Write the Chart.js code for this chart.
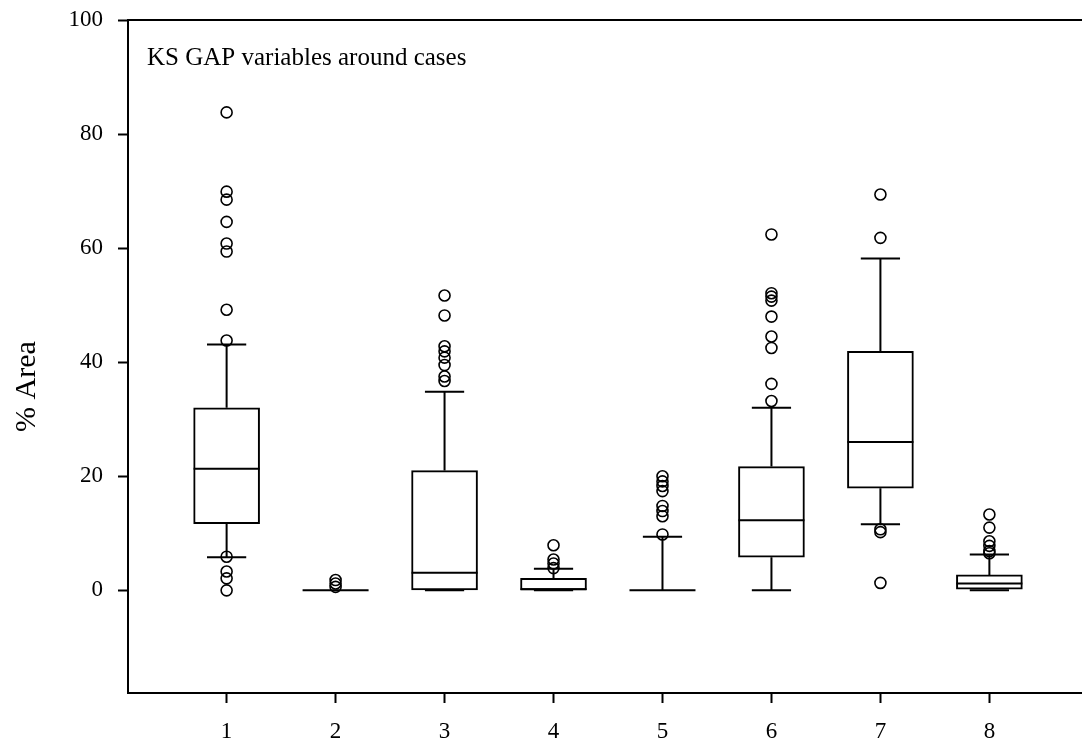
<!DOCTYPE html>
<html>
<head>
<meta charset="utf-8">
<script src="https://cdn.jsdelivr.net/npm/chart.js@4/dist/chart.umd.min.js"></script>
<style>
  html, body { margin: 0; padding: 0; background: #fff; overflow: hidden; }
  #wrap { width: 1100px; height: 748px; }
</style>
</head>
<body>
<div id="wrap"><canvas id="box-chart" width="1100" height="748"></canvas></div>
<script>
// KS GAP 변수 — 사례 주변 % Area 박스플롯 (8개 변수)
const categories = ['1', '2', '3', '4', '5', '6', '7', '8'];
const yTicks     = [0, 20, 40, 60, 80, 100];

// 박스 (사분위) + 수염
const q1      = [11.7, 0, 0,    0,   0,   5.8,  17.9, 0.2];
const median  = [21.3, 0, 3.1,  0.2, 0,   12.3, 26.0, 1.2];
const q3      = [32.0, 0, 21.0, 2.1, 0,   21.7, 41.9, 2.7];
const whiskLo = [5.8,  0, 0,    0,   0,   0,    11.6, 0];
const whiskHi = [43.1, 0, 34.8, 3.8, 9.4, 32.0, 58.2, 6.3];

// 이상치
const outliers = [
  [83.8, 69.9, 68.5, 64.6, 60.8, 59.4, 49.2, 43.8, 5.9, 3.3, 2.1, 0],
  [1.8, 1.2, 0.6],
  [51.7, 48.2, 42.8, 41.9, 40.8, 39.5, 37.5, 36.7],
  [7.9, 5.4, 4.7, 3.9],
  [20.0, 19.1, 18.3, 17.4, 14.8, 13.9, 13.0, 9.8],
  [62.4, 52.1, 51.5, 50.8, 48.0, 44.5, 42.5, 36.2, 33.2],
  [69.4, 61.8, 10.7, 10.2, 1.3],
  [13.3, 11.0, 8.6, 7.8, 6.9, 6.5],
];

const chartTitle = 'KS GAP variables around cases';
const yTitle     = '% Area';

const SERIF = "'Liberation Serif', 'DejaVu Serif', serif";
const INK   = '#000';
const CAP_HALF = 0.18;   // 수염 끝 가로선 반폭 (x 단위)

const catX = categories.map((c, i) => i + 1);

// 수염 + 중앙값 + 패널 제목
const whiskerPlugin = {
  id: 'whiskers',
  afterDatasetsDraw(chart) {
    const { ctx, scales: { x, y }, chartArea } = chart;
    const boxMeta = chart.getDatasetMeta(0);
    ctx.save();
    ctx.strokeStyle = INK;
    ctx.lineWidth = 2;
    catX.forEach((cx, i) => {
      const px  = x.getPixelForValue(cx);
      const cl  = x.getPixelForValue(cx - CAP_HALF);
      const cr  = x.getPixelForValue(cx + CAP_HALF);
      const half = boxMeta.data[i].width / 2;
      ctx.beginPath();
      // 위 수염
      ctx.moveTo(px, y.getPixelForValue(q3[i]));
      ctx.lineTo(px, y.getPixelForValue(whiskHi[i]));
      ctx.moveTo(cl, y.getPixelForValue(whiskHi[i]));
      ctx.lineTo(cr, y.getPixelForValue(whiskHi[i]));
      // 아래 수염
      ctx.moveTo(px, y.getPixelForValue(q1[i]));
      ctx.lineTo(px, y.getPixelForValue(whiskLo[i]));
      ctx.moveTo(cl, y.getPixelForValue(whiskLo[i]));
      ctx.lineTo(cr, y.getPixelForValue(whiskLo[i]));
      // 중앙값
      ctx.moveTo(px - half, y.getPixelForValue(median[i]));
      ctx.lineTo(px + half, y.getPixelForValue(median[i]));
      ctx.stroke();
    });
    ctx.fillStyle = INK;
    ctx.font = `25px ${SERIF}`;
    ctx.textBaseline = 'alphabetic';
    ctx.textAlign = 'left';
    ctx.fillText(chartTitle, chartArea.left + 19, chartArea.top + 45);
    ctx.restore();
  }
};

const axisLine = { display: true, color: INK, width: 2 };
const tickGrid = { drawOnChartArea: false, drawTicks: true, tickLength: 10, tickWidth: 2, tickColor: INK, offset: false };

new Chart(document.getElementById('box-chart').getContext('2d'), {
  data: {
    datasets: [
      {
        type: 'bar',
        label: 'box',
        data: catX.map((cx, i) => ({ x: cx, y: [q1[i], q3[i]] })),
        backgroundColor: '#fff',
        borderColor: INK,
        borderWidth: 2,
        borderSkipped: false,
        barThickness: 66,
      },
      {
        type: 'scatter',
        label: 'outliers',
        data: outliers.flatMap((arr, i) => arr.map(v => ({ x: catX[i], y: v }))),
        pointRadius: 5.5,
        pointBorderWidth: 1.6,
        pointBorderColor: INK,
        pointBackgroundColor: 'rgba(255,255,255,0)',
      },
    ]
  },
  options: {
    responsive: false,
    animation: false,
    events: [],
    layout: { padding: { left: 0, top: 20, right: 12, bottom: 0 } },
    plugins: { legend: { display: false }, tooltip: { enabled: false } },
    scales: {
      x: {
        type: 'linear',
        position: 'bottom',
        offset: false,
        min: 0.095,
        max: 8.905,
        afterBuildTicks: s => { s.ticks = catX.map(v => ({ value: v })); },
        afterFit: s => { s.height = 55; s.paddingLeft = 0; s.paddingRight = 0; },
        ticks: {
          color: INK,
          padding: 15,
          font: { family: SERIF, size: 23 },
          callback: v => categories[v - 1],
        },
        grid: tickGrid,
        border: axisLine,
      },
      xTop: {
        type: 'linear',
        position: 'top',
        offset: false,
        min: 0.095,
        max: 8.905,
        afterFit: s => { s.height = 0; s.paddingLeft = 0; s.paddingRight = 0; },
        ticks: { display: false },
        grid: { drawOnChartArea: false, drawTicks: false, offset: false },
        border: axisLine,
      },
      y: {
        type: 'linear',
        min: -18,
        max: 100,
        afterBuildTicks: s => { s.ticks = yTicks.map(v => ({ value: v })); },
        afterFit: s => { s.width = 128; s.paddingTop = 0; s.paddingBottom = 0; },
        ticks: {
          color: INK,
          padding: 15,
          font: { family: SERIF, size: 23 },
        },
        grid: tickGrid,
        border: axisLine,
        title: {
          display: true,
          // 뒤쪽 공백으로 제목을 축 중앙보다 약간 아래에 배치 (원본과 동일)
          text: yTitle + '        ',
          color: INK,
          font: { family: SERIF, size: 30 },
          padding: { top: 9, bottom: 0 },
        },
      },
    }
  },
  plugins: [whiskerPlugin],
});
</script>
</body>
</html>
